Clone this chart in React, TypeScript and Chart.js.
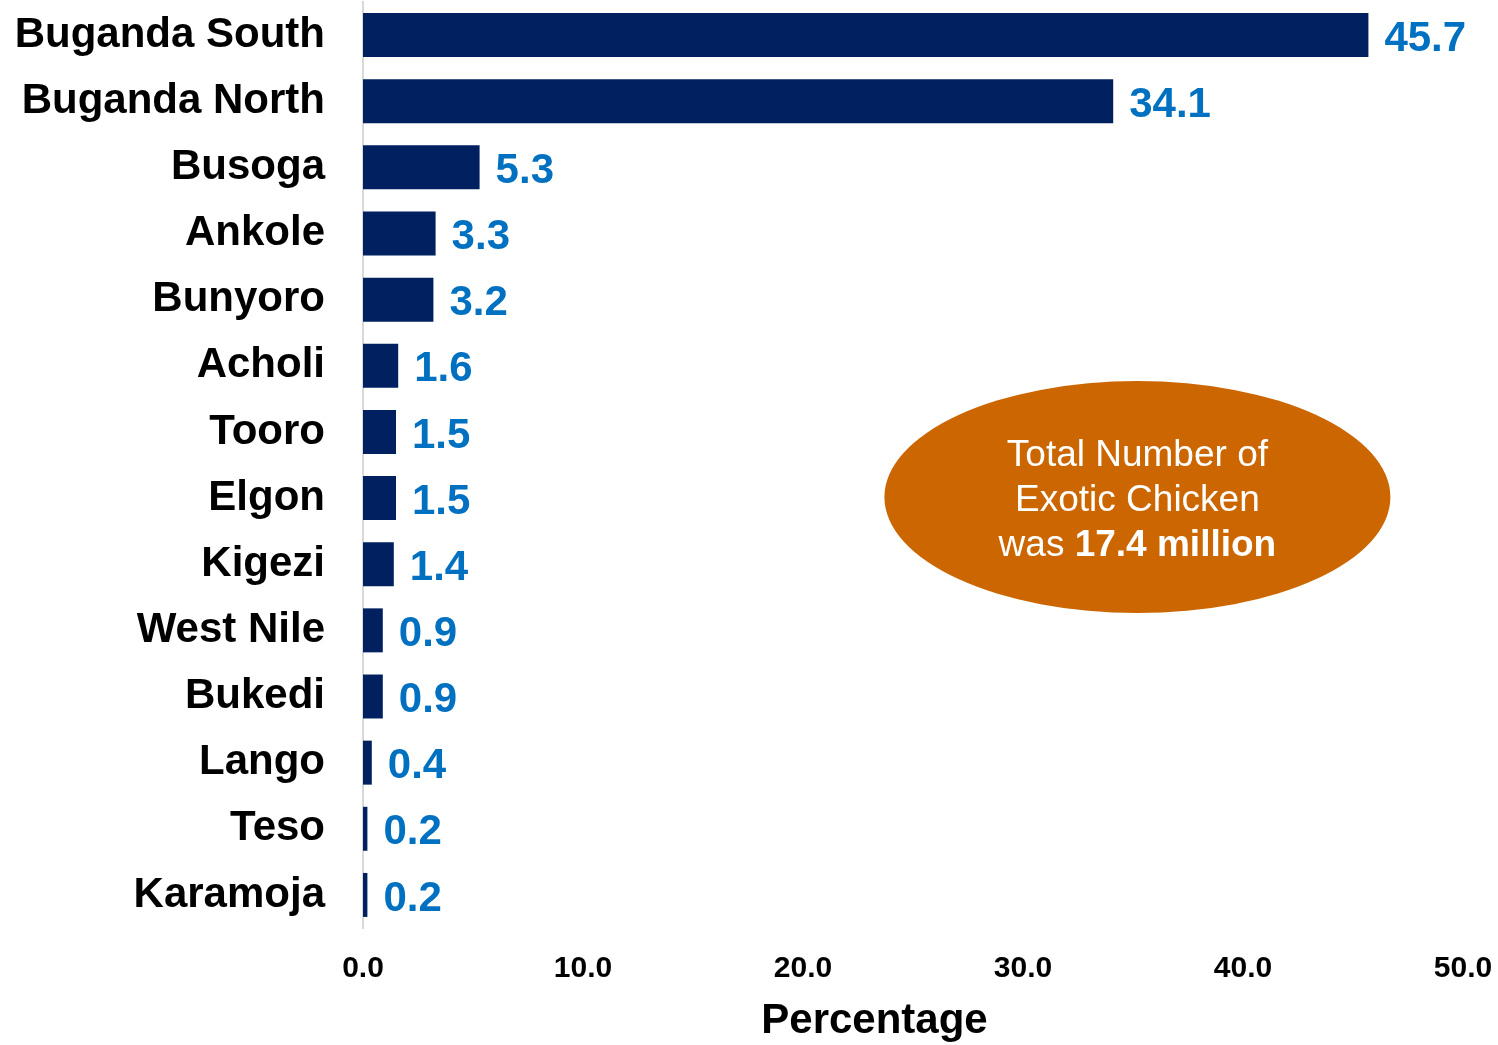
import React, { useEffect, useRef } from "react";
import { Chart, registerables } from "chart.js";

Chart.register(...registerables);

const categories = [
  "Buganda South", "Buganda North", "Busoga", "Ankole", "Bunyoro", "Acholi", "Tooro",
  "Elgon", "Kigezi", "West Nile", "Bukedi", "Lango", "Teso", "Karamoja",
];
const values = [45.7, 34.1, 5.3, 3.3, 3.2, 1.6, 1.5, 1.5, 1.4, 0.9, 0.9, 0.4, 0.2, 0.2];
const xMin = 0;
const xMax = 50;
const xStep = 10;
const axisTitle = "Percentage";
const axisTitleAnchorValue = 23.25;
const noteLines = ["Total Number of", "Exotic Chicken"];
const noteLastPlain = "was ";
const noteLastBold = "17.4 million";
const noteAnchorValue = 35.2;
const noteAnchorCategory = 7;

const FONT = "'Liberation Sans', Arial, sans-serif";

const labelsPlugin = {
  id: "valueLabels",
  afterDatasetsDraw(chart: any) {
    const { ctx } = chart;
    const meta = chart.getDatasetMeta(0);
    ctx.save();
    ctx.font = `bold 42px ${FONT}`;
    ctx.fillStyle = "#0070C0";
    ctx.textAlign = "left";
    ctx.textBaseline = "middle";
    meta.data.forEach((bar: any, i: number) => {
      ctx.fillText(values[i].toFixed(1), bar.x + 16, bar.y + 4);
    });
    ctx.restore();
  },
};

const titlePlugin = {
  id: "axisTitle",
  afterDraw(chart: any) {
    const { ctx } = chart;
    const x = chart.scales.x.getPixelForValue(axisTitleAnchorValue);
    ctx.save();
    ctx.font = `bold 42px ${FONT}`;
    ctx.fillStyle = "#000000";
    ctx.textAlign = "center";
    ctx.textBaseline = "middle";
    ctx.fillText(axisTitle, x, chart.scales.x.bottom - 24);
    ctx.restore();
  },
};

const notePlugin = {
  id: "note",
  afterDraw(chart: any) {
    const { ctx } = chart;
    const cx = chart.scales.x.getPixelForValue(noteAnchorValue);
    const cy = chart.scales.y.getPixelForValue(noteAnchorCategory) - 1;
    ctx.save();
    ctx.beginPath();
    ctx.ellipse(cx, cy, 253, 116, 0, 0, Math.PI * 2);
    ctx.fillStyle = "#CC6600";
    ctx.fill();
    ctx.fillStyle = "#FFFFFF";
    ctx.textBaseline = "middle";
    ctx.textAlign = "center";
    ctx.font = `37px ${FONT}`;
    const lh = 45;
    const ty = cy + 4;
    ctx.fillText(noteLines[0], cx, ty - lh);
    ctx.fillText(noteLines[1], cx, ty);
    const w1 = ctx.measureText(noteLastPlain).width;
    ctx.font = `bold 37px ${FONT}`;
    const w2 = ctx.measureText(noteLastBold).width;
    const start = cx - (w1 + w2) / 2;
    ctx.textAlign = "left";
    ctx.font = `37px ${FONT}`;
    ctx.fillText(noteLastPlain, start, ty + lh);
    ctx.font = `bold 37px ${FONT}`;
    ctx.fillText(noteLastBold, start + w1, ty + lh);
    ctx.restore();
  },
};

export default function App() {
  const ref = useRef<HTMLCanvasElement>(null);
  useEffect(() => {
    if (!ref.current) return;
    const chart = new Chart(ref.current, {
      type: "bar",
      data: {
        labels: categories,
        datasets: [
          {
            data: values,
            backgroundColor: "#002060",
            barPercentage: 0.665,
            categoryPercentage: 1,
          },
        ],
      },
      options: {
        indexAxis: "y",
        animation: false,
        responsive: false,
        layout: { padding: { top: 2, right: 35, bottom: 0, left: 0 } },
        plugins: { legend: { display: false }, tooltip: { enabled: false } },
        scales: {
          x: {
            min: xMin,
            max: xMax,
            grid: { display: false, drawTicks: false },
            border: { display: false },
            ticks: {
              stepSize: xStep,
              padding: 23,
              color: "#000000",
              font: { family: FONT, size: 30, weight: "bold" },
              maxRotation: 0,
              callback: (v: any) => Number(v).toFixed(1),
            },
            title: { display: false },
            afterFit: (scale: any) => {
              scale.height = 117;
              scale.paddingLeft = 0;
              scale.paddingRight = 0;
              scale.paddingTop = 0;
              scale.paddingBottom = 0;
            },
          },
          y: {
            grid: { display: false, drawTicks: false },
            border: { display: true, color: "#D9D9D9", width: 2 },
            ticks: {
              padding: 38,
              color: "#000000",
              font: { family: FONT, size: 42, weight: "bold" },
            },
            afterFit: (scale: any) => {
              scale.width = 363;
              scale.paddingLeft = 0;
              scale.paddingRight = 0;
              scale.paddingTop = 0;
              scale.paddingBottom = 0;
            },
          },
        },
      },
      plugins: [labelsPlugin, titlePlugin, notePlugin],
    });
    return () => chart.destroy();
  }, []);
  return (
    <div style={{ position: "absolute", left: 0, top: 0, width: 1498, height: 1045, background: "#fff" }}>
      <canvas ref={ref} width={1498} height={1045} style={{ display: "block" }} />
    </div>
  );
}
